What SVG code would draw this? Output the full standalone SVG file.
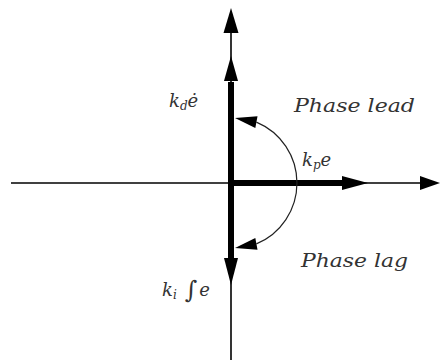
<svg xmlns="http://www.w3.org/2000/svg" width="440" height="360" viewBox="0 0 440 360">
<style>
.thin{stroke:#000;stroke-width:1.6;fill:none}
.thick{stroke:#000;stroke-width:6;fill:none}
.arc{stroke:#222;stroke-width:1.2;fill:none}
.head{fill:#000;stroke:none}
.lbl{font-family:'DejaVu Serif','Liberation Serif',serif;font-style:italic;font-size:18px;fill:#333}
.big{font-size:19px}
.sub{font-size:12px}
.int{font-size:24px}
</style>
<rect width="440" height="360" fill="#fff"/>
<g id="connectors">
<line class="thin" x1="11" y1="183" x2="424" y2="183"/>
<line class="thin" x1="231" y1="30" x2="231" y2="360"/>
<line class="thick" x1="231" y1="183" x2="344" y2="183"/>
<line class="thick" x1="231" y1="82" x2="231" y2="258"/>
<polygon class="head" points="440,183 420,176 420,190"/>
<polygon class="head" points="231,8 223.5,33 238.5,33"/>
<polygon class="head" points="368,183 342,176 342,190"/>
<polygon class="head" points="231,56 224,81 238,81"/>
<polygon class="head" points="231,285 224,258 238,258"/>
<path class="arc" d="M256.4,122.1 A66,66 0 0 1 256.4,243.9"/>
<polygon class="head" points="235,118 257.5,116.2 255.3,128"/>
<polygon class="head" points="235,248 257.5,249.8 255.3,238"/>
</g>
<g id="kd">
<text class="lbl" x="169" y="107">k<tspan class="sub" dy="3">d</tspan><tspan dy="-3">ė</tspan></text>
</g>
<g id="phase-lead">
<text class="lbl big" x="294" y="112" textLength="121" lengthAdjust="spacingAndGlyphs">Phase lead</text>
</g>
<g id="kp">
<text class="lbl" x="302" y="166">k<tspan class="sub" dy="3">p</tspan><tspan dy="-3">e</tspan></text>
</g>
<g id="phase-lag">
<text class="lbl big" x="301" y="267" textLength="107" lengthAdjust="spacingAndGlyphs">Phase lag</text>
</g>
<g id="ki">
<text class="lbl" x="162" y="296">k<tspan class="sub" dy="3">i</tspan><tspan class="int" dy="-1" dx="8">∫</tspan><tspan dy="-2" dx="2">e</tspan></text>
</g>
</svg>
